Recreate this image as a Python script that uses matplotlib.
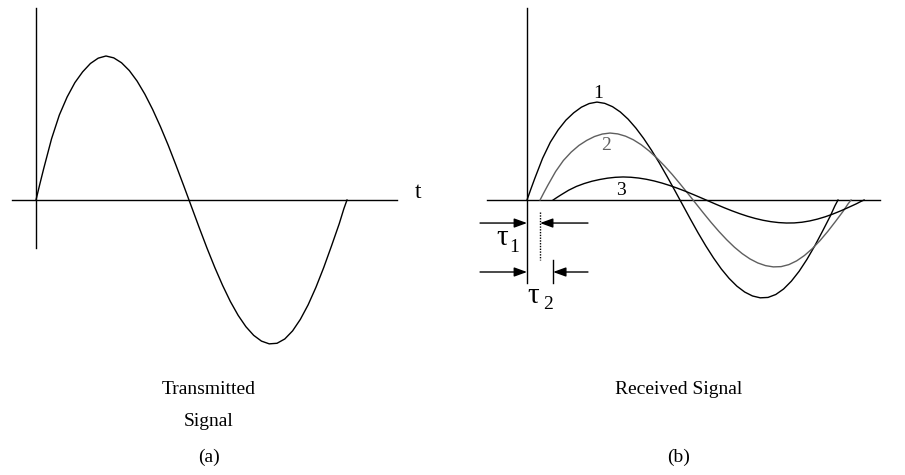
import numpy as np
import matplotlib
matplotlib.use('Agg')
import matplotlib.pyplot as plt

plt.rcParams['font.family'] = ['Liberation Serif', 'DejaVu Serif']

# ── Data ──────────────────────────────────────────────────────────────
# one period of the transmitted pulse, time in arbitrary units
t_samples = [0, 0.125, 0.25, 0.5, 0.75, 1.0, 1.25, 1.5, 1.75, 2.0, 2.25,
             2.5, 2.75, 3.0, 3.25, 3.5, 3.75, 4.0, 4.25, 4.5, 4.75,
             5.0, 5.25, 5.5, 5.75, 6.0, 6.25, 6.5, 6.75, 7.0, 7.25,
             7.5, 7.75, 8.0, 8.25, 8.5, 8.75, 9.0, 9.25, 9.5, 9.75, 9.9, 10.0]
tx_signal = [0, 0.112, 0.22, 0.425, 0.59, 0.715, 0.815, 0.89, 0.948, 0.985, 1.0,
             0.987, 0.953, 0.899, 0.826, 0.735, 0.629, 0.51, 0.381, 0.242, 0.099,
             -0.047, -0.193, -0.335, -0.469, -0.593, -0.705, -0.801, -0.88, -0.94, -0.98,
             -0.999, -0.995, -0.965, -0.909, -0.829, -0.728, -0.607, -0.47, -0.32, -0.165, -0.06, 0]

# received copies: label, attenuation, delay
rx_labels = ['1', '2', '3']
rx_gain   = [0.68, 0.465, 0.16]
rx_delay  = [0.0, 0.42, 0.84]
rx_colors = ['#000000', '#5f5f5f', '#000000']

# ── Layout: 31.1 px per time unit, 144 px per amplitude unit ──────────
W, H = 905, 475
PX_T, PX_A = 31.1, 144.0
AX_Y = 200          # pixel row of the time axis
SPLIT = 452         # pixel column between the panels

fig = plt.figure(figsize=(W / 100, H / 100), dpi=100)
fig.patch.set_facecolor('white')


def panel(x0, x1, origin_x):
    ax = fig.add_axes([x0 / W, 0, (x1 - x0) / W, 1])
    ax.set_xlim((x0 - origin_x) / PX_T, (x1 - origin_x) / PX_T)
    ax.set_ylim((AX_Y - H) / PX_A, AX_Y / PX_A)
    ax.axis('off')
    return ax


def arrow(ax, x1, x2, y):
    ax.annotate('', xy=(x2, y), xytext=(x1, y),
                arrowprops=dict(arrowstyle='-|>,head_length=0.55,head_width=0.2',
                                color='black', lw=1.0, shrinkA=0, shrinkB=0,
                                mutation_scale=14))


t = np.array(t_samples)
s = np.array(tx_signal)
LW = 1.0

# ── (a) transmitted ───────────────────────────────────────────────────
ax1 = panel(0, SPLIT, 36)
ax1.plot([-0.77, 11.61], [0, 0], color='black', lw=LW)
ax1.plot([0, 0], [-0.333, 1.333], color='black', lw=LW)
ax1.plot(t, s, color='black', lw=LW, solid_joinstyle='round')
ax1.text(12.28, 0.05, 't', fontsize=17, ha='center', va='center')

# ── (b) received ──────────────────────────────────────────────────────
ax2 = panel(SPLIT, W, 527)
ax2.plot([-1.29, 11.35], [0, 0], color='black', lw=LW)
ax2.plot([0, 0], [-0.576, 1.333], color='black', lw=LW)
for lab, g, d, c in zip(rx_labels, rx_gain, rx_delay, rx_colors):
    ax2.plot(t + d, g * s, color=c, lw=LW, solid_joinstyle='round')

ax2.text(2.28, 0.743, '1', fontsize=14, ha='center', va='center')
ax2.text(2.54, 0.375, '2', fontsize=14, ha='center', va='center', color='#5f5f5f')
ax2.text(3.02, 0.069, '3', fontsize=14, ha='center', va='center')

# delay markers
ax2.plot([rx_delay[1], rx_delay[1]], [-0.083, -0.417], color='black',
         lw=1.0, ls=(0, (1, 1)))
ax2.plot([rx_delay[2], rx_delay[2]], [-0.417, -0.576], color='black', lw=LW)
arrow(ax2, -1.51, 0, -0.16)
arrow(ax2, 1.96, rx_delay[1], -0.16)
arrow(ax2, -1.51, 0, -0.5)
arrow(ax2, 1.96, rx_delay[2], -0.5)
ax2.text(-0.80, -0.265, 'τ', fontsize=21, ha='center', va='center')
ax2.text(-0.40, -0.333, '1', fontsize=14, ha='center', va='center')
ax2.text(0.19, -0.668, 'τ', fontsize=21, ha='center', va='center')
ax2.text(0.675, -0.729, '2', fontsize=14, ha='center', va='center')

# captions
for x, y, txt in [(209, 389, 'Transmitted'), (209, 421, 'Signal'), (209, 457, '(a)'),
                  (679, 389, 'Received Signal'), (679, 457, '(b)')]:
    fig.text(x / W, 1 - y / H, txt, fontsize=14, ha='center', va='center')

fig.savefig('out.png', dpi=100, facecolor='white')
